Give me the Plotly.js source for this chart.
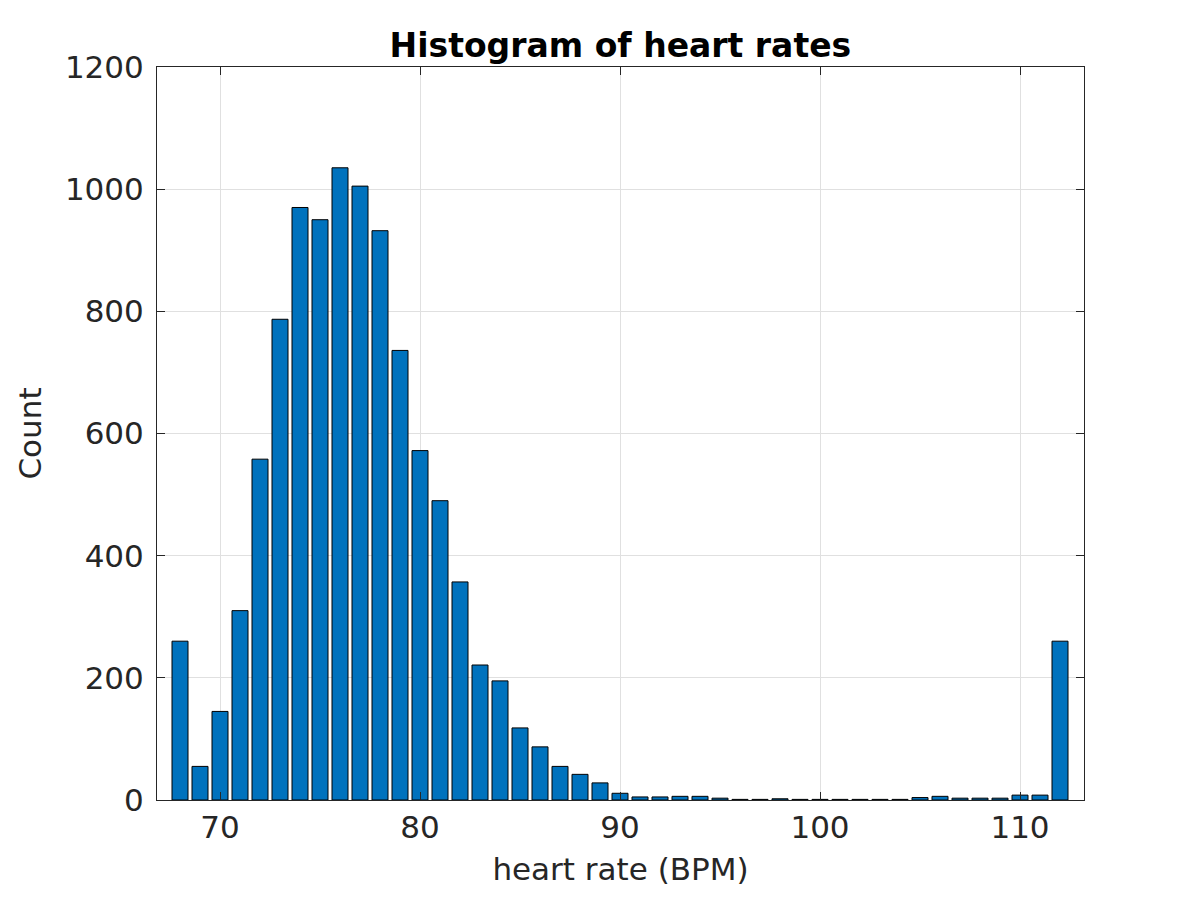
<!DOCTYPE html>
<html><head><meta charset="utf-8">
<script src="https://cdn.plot.ly/plotly-3.0.1.min.js"></script>
</head><body style="margin:0">
<div id="plot" style="width:1200px;height:900px"></div>
<script>
const bpm = [68,69,70,71,72,73,74,75,76,77,78,79,80,81,82,83,84,85,86,87,88,89,90,91,92,93,94,95,96,97,98,99,100,101,102,103,104,105,106,107,108,109,110,111,112]
const counts = [260,55,145,310,558,787,970,950,1035,1005,932,736,572,490,357,221,195,118,87,55,42,28,11,5,5,6,6,3,1,1,2,1,1,1,1,1,1,4,6,3,3,3,8,8,260]
const xTicks = [70,80,90,100,110]

const font = {family: 'DejaVu Sans', size: 31, color: '#262626'}
const trace = {
  type: 'bar', x: bpm, y: counts, width: 0.8,
  marker: {color: '#0072bd', line: {color: '#000', width: 1}}
}
const layout = {
  width: 1200, height: 900,
  paper_bgcolor: '#fff', plot_bgcolor: '#fff',
  margin: {l: 157, r: 116, t: 67, b: 100},
  title: {text: '<b>Histogram of heart rates</b>', x: 0.517, y: 0.962, font: {family: 'DejaVu Sans', size: 33, color: '#000'}},
  xaxis: {
    range: [66.85, 113.2], tickvals: xTicks, ticks: 'inside', ticklen: 8, tickcolor: '#262626',
    showgrid: true, gridcolor: '#e0e0e0', zeroline: false,
    showline: true, linecolor: '#262626', mirror: 'ticks',
    tickfont: font, title: {text: 'heart rate (BPM)', font: font, standoff: 14}
  },
  yaxis: {
    range: [0, 1200], dtick: 200, ticks: 'inside', ticklen: 8, tickcolor: '#262626',
    showgrid: true, gridcolor: '#e0e0e0', zeroline: false, ticklabelstandoff: 6,
    showline: true, linecolor: '#262626', mirror: 'ticks',
    tickfont: font, title: {text: 'Count', font: font, standoff: 14}
  },
  showlegend: false
}
Plotly.newPlot('plot', [trace], layout, {displayModeBar: false})
</script>
</body></html>
